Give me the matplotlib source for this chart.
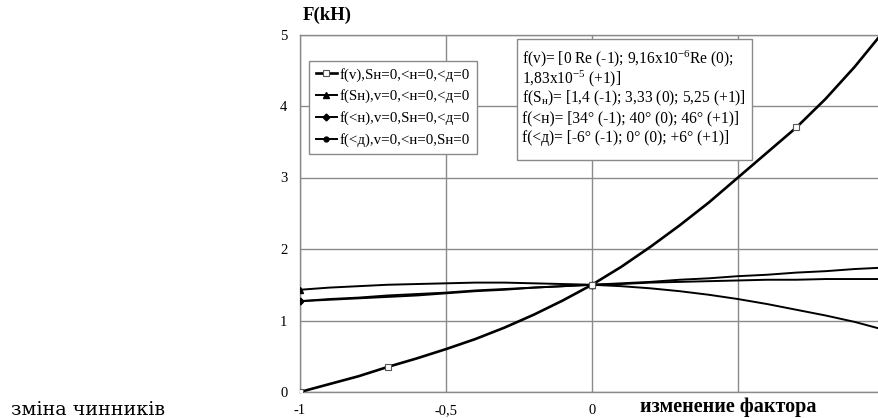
import matplotlib
matplotlib.use('Agg')
import matplotlib.pyplot as plt
import matplotlib.patches as mpatches

plt.rcParams['font.family'] = ['Liberation Serif', 'DejaVu Serif']
plt.rcParams['mathtext.fontset'] = 'custom'
plt.rcParams['mathtext.rm'] = 'Liberation Serif'
plt.rcParams['mathtext.it'] = 'Liberation Serif:italic'

# factor level (coded)
x = [-1.0, -0.9, -0.8, -0.7, -0.6, -0.5, -0.4, -0.3, -0.2, -0.1, 0.0,
     0.1, 0.2, 0.3, 0.4, 0.5, 0.6, 0.7, 0.8, 0.9, 1.0]

# F(kH)
f_v = [0.0, 0.11, 0.22, 0.35, 0.47, 0.60, 0.74, 0.90, 1.08, 1.28, 1.50,
       1.75, 2.03, 2.33, 2.65, 3.00, 3.35, 3.70, 4.10, 4.55, 5.05]
f_sn = [1.43, 1.46, 1.48, 1.50, 1.51, 1.52, 1.53, 1.53, 1.52, 1.51, 1.50,
        1.48, 1.45, 1.41, 1.36, 1.30, 1.23, 1.15, 1.07, 0.98, 0.87]
f_an = [1.27, 1.30, 1.32, 1.35, 1.37, 1.39, 1.42, 1.44, 1.46, 1.48, 1.50,
        1.52, 1.54, 1.57, 1.59, 1.62, 1.64, 1.67, 1.69, 1.72, 1.74]
f_ad = [1.27, 1.29, 1.31, 1.33, 1.35, 1.38, 1.41, 1.43, 1.46, 1.48, 1.50,
        1.51, 1.53, 1.54, 1.55, 1.56, 1.57, 1.57, 1.58, 1.58, 1.58]

labels = ['f(v),Sн=0,<н=0,<д=0',
          'f(Sн),v=0,<н=0,<д=0',
          'f(<н),v=0,Sн=0,<д=0',
          'f(<д),v=0,<н=0,Sн=0']

xticks = [-1, -0.5, 0, 0.5]
xtick_labels = ['-1', '-0,5', '0', '']
yticks = [0, 1, 2, 3, 4, 5]

info_lines = [
    'f(v)= [0 Re (-1); 9,16x10$^{-6}$Re (0);',
    '1,83x10$^{-5}$ (+1)]',
    'f(S$_{\\mathrm{н}}$)= [1,4 (-1); 3,33 (0); 5,25 (+1)]',
    'f(<н)= [34° (-1); 40° (0); 46° (+1)]',
    'f(<д)= [-6° (-1); 0° (0); +6° (+1)]',
]

W, H = 879, 418
fig = plt.figure(figsize=(W / 100, H / 100), dpi=100)
ax = fig.add_axes([300 / W, 1 - 392 / H, 584 / W, 357.5 / H])

grid_c = '#8a8a8a'
ax.plot(x, f_v, color='black', lw=1.9, marker='s', ms=4.5, mfc='white',
        mec='#555555', mew=0.8, markevery=[0, 3, 10, 17, 20], label=labels[0], zorder=4)
ax.plot(x, f_sn, color='black', lw=1.4, marker='^', ms=4.5,
        markevery=[0, 10, 20], label=labels[1], zorder=3)
ax.plot(x, f_an, color='black', lw=1.4, marker='D', ms=3.5,
        markevery=[0, 10, 20], label=labels[2], zorder=3)
ax.plot(x, f_ad, color='black', lw=1.4, marker='o', ms=3.5,
        markevery=[0, 10, 20], label=labels[3], zorder=3)

ax.set_xlim(-1, 1)
ax.set_ylim(0, 5)
ax.set_xticks(xticks)
ax.set_xticklabels(xtick_labels)
ax.set_yticks(yticks)
ax.tick_params(length=0, labelsize=10.5, pad=9)
ax.grid(True, color=grid_c, lw=1)
for s in ax.spines.values():
    s.set_color(grid_c)
    s.set_linewidth(1)

fig.text(303 / W, 1 - 15 / H, 'F(kH)', fontsize=13.5, fontweight='bold',
         ha='left', va='center')
fig.text(728 / W, 1 - 407 / H, 'изменение фактора', fontsize=14.5,
         fontweight='bold', ha='center', va='center')
fig.text(11 / W, 1 - 410 / H, 'зміна чинників', fontsize=13.7,
         family=['DejaVu Serif'], ha='left', va='center')

leg = fig.legend(loc='upper left', bbox_to_anchor=(309 / W, 1 - 61 / H),
                 fontsize=10.8, handlelength=1.4, handletextpad=0.2,
                 labelspacing=0.52, borderpad=0.45, borderaxespad=0,
                 fancybox=False, edgecolor=grid_c, framealpha=1)
leg.get_frame().set_linewidth(1)

box = mpatches.Rectangle((517 / W, 1 - 160 / H), 235 / W, 121 / H,
                         transform=fig.transFigure, facecolor='white',
                         edgecolor=grid_c, lw=1, zorder=5)
fig.add_artist(box)
for i, line in enumerate(info_lines):
    fig.text(522 / W, 1 - (59 + i * 19.8) / H, line, fontsize=11.2,
             ha='left', va='center', zorder=6)

fig.savefig('out.png', dpi=100)
